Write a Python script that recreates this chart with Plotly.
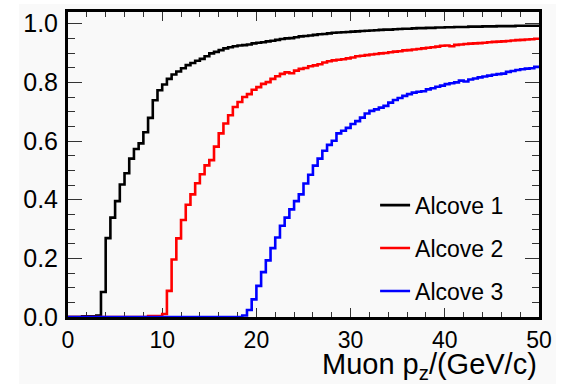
import plotly.graph_objects as go

# bin lower edges (0.5 GeV/c bins from 0 to 50)
bin_width = 0.5
n_bins = 100
bin_edges = [i * bin_width for i in range(n_bins + 1)]

alcove1 = [
    0.000, 0.000, 0.000, 0.002, 0.002, 0.002, 0.005, 0.085, 0.269, 0.339,
    0.395, 0.452, 0.490, 0.540, 0.573, 0.592, 0.630, 0.679, 0.739, 0.773,
    0.793, 0.812, 0.827, 0.837, 0.848, 0.859, 0.866, 0.874, 0.880, 0.889,
    0.899, 0.904, 0.910, 0.916, 0.920, 0.923, 0.926, 0.927, 0.929, 0.933,
    0.935, 0.937, 0.940, 0.942, 0.945, 0.948, 0.950, 0.951, 0.954, 0.957,
    0.958, 0.960, 0.962, 0.964, 0.965, 0.967, 0.969, 0.970, 0.971, 0.972,
    0.973, 0.974, 0.975, 0.976, 0.977, 0.978, 0.979, 0.980, 0.980, 0.981,
    0.982, 0.983, 0.983, 0.984, 0.985, 0.985, 0.986, 0.986, 0.987, 0.987,
    0.988, 0.988, 0.989, 0.989, 0.989, 0.990, 0.990, 0.990, 0.991, 0.991,
    0.991, 0.992, 0.992, 0.992, 0.992, 0.993, 0.993, 0.993, 0.993, 0.993,
]

alcove2 = [
    0.000, 0.000, 0.000, 0.000, 0.000, 0.000, 0.000, 0.000, 0.000, 0.000,
    0.000, 0.000, 0.000, 0.000, 0.000, 0.000, 0.000, 0.003, 0.003, 0.003,
    0.010, 0.089, 0.196, 0.268, 0.331, 0.383, 0.418, 0.456, 0.487, 0.517,
    0.535, 0.581, 0.626, 0.660, 0.688, 0.716, 0.733, 0.750, 0.760, 0.775,
    0.784, 0.795, 0.801, 0.812, 0.821, 0.829, 0.834, 0.831, 0.840, 0.846,
    0.849, 0.855, 0.858, 0.862, 0.868, 0.872, 0.875, 0.877, 0.879, 0.882,
    0.885, 0.889, 0.891, 0.893, 0.895, 0.897, 0.899, 0.900, 0.903, 0.905,
    0.906, 0.909, 0.910, 0.912, 0.914, 0.916, 0.918, 0.920, 0.922, 0.925,
    0.926, 0.923, 0.928, 0.929, 0.931, 0.932, 0.933, 0.934, 0.935, 0.937,
    0.938, 0.939, 0.940, 0.941, 0.943, 0.944, 0.945, 0.946, 0.947, 0.949,
]

alcove3 = [
    0.000, 0.000, 0.000, 0.000, 0.000, 0.000, 0.000, 0.000, 0.000, 0.000,
    0.000, 0.000, 0.000, 0.000, 0.000, 0.000, 0.000, 0.000, 0.000, 0.000,
    0.000, 0.000, 0.000, 0.000, 0.000, 0.000, 0.000, 0.000, 0.000, 0.000,
    0.000, 0.000, 0.000, 0.000, 0.000, 0.000, 0.000, 0.005, 0.024, 0.060,
    0.106, 0.153, 0.193, 0.235, 0.271, 0.311, 0.339, 0.367, 0.395, 0.418,
    0.455, 0.485, 0.516, 0.540, 0.567, 0.587, 0.601, 0.626, 0.635, 0.645,
    0.658, 0.668, 0.680, 0.694, 0.703, 0.708, 0.714, 0.720, 0.731, 0.740,
    0.747, 0.754, 0.760, 0.765, 0.768, 0.770, 0.776, 0.780, 0.785, 0.789,
    0.794, 0.797, 0.800, 0.806, 0.803, 0.810, 0.813, 0.817, 0.820, 0.823,
    0.826, 0.828, 0.830, 0.836, 0.839, 0.842, 0.845, 0.847, 0.848, 0.853,
]

series_names = ["Alcove 1", "Alcove 2", "Alcove 3"]
series_values = [alcove1, alcove2, alcove3]
series_colors = ["#000000", "#ff0000", "#0000ff"]

x_tick_vals = [0, 10, 20, 30, 40, 50]
y_tick_vals = [0.0, 0.2, 0.4, 0.6, 0.8, 1.0]
x_title = "Muon p<sub>z</sub>/(GeV/c)"

FONT = "Liberation Sans, Arial, Helvetica, sans-serif"
BG = "#f9f9f9"

fig = go.Figure()
for i, (name, vals, col) in enumerate(zip(series_names, series_values, series_colors)):
    fig.add_trace(go.Scatter(
        x=bin_edges,
        y=vals + [vals[-1]],
        mode="lines",
        line=dict(shape="hv", color=col, width=2.6),
        name=name,
        legendgroup=name,
        showlegend=True,
    ))

W, H = 566, 384
L, R, T, B = 68, 27, 9, 67
PW, PH = W - L - R, H - T - B

fig.update_layout(
    width=W, height=H,
    margin=dict(l=L, r=R, t=T, b=B, pad=0),
    paper_bgcolor="white",
    plot_bgcolor=BG,
    font=dict(family=FONT, color="black"),
    showlegend=True,
    legend=dict(
        x=0.652, y=0.437, xanchor="left", yanchor="top",
        bgcolor="rgba(0,0,0,0)", borderwidth=0,
        font=dict(size=23, family=FONT, color="black"),
        tracegroupgap=10,
        itemwidth=30,
    ),
    xaxis=dict(
        range=[0, 50], tickvals=x_tick_vals, ticktext=[str(v) for v in x_tick_vals],
        ticks="inside", ticklen=9, tickwidth=1, tickcolor="#333",
        minor=dict(dtick=2, ticks="inside", ticklen=5, tickwidth=1, tickcolor="#333"),
        showline=True, linecolor="black", linewidth=3, mirror="ticks",
        showgrid=False, zeroline=False, layer="below traces",
        tickfont=dict(size=23, family=FONT), ticklabelstandoff=0,
    ),
    yaxis=dict(
        range=[0, 1.04], tickvals=y_tick_vals, tickformat=".1f",
        ticks="inside", ticklen=14, tickwidth=1, tickcolor="#333",
        minor=dict(dtick=0.05, ticks="inside", ticklen=7, tickwidth=1, tickcolor="#333"),
        showline=True, linecolor="black", linewidth=3, mirror="ticks",
        showgrid=False, zeroline=False, layer="below traces",
        tickfont=dict(size=25, family=FONT), ticklabelstandoff=2,
    ),
    shapes=[dict(
        type="rect", xref="paper", yref="paper", layer="below",
        x0=(19 - L) / PW, x1=(556 - L) / PW,
        y0=-(B + 2) / PH, y1=1 + (T - 1) / PH,
        fillcolor=BG, line=dict(width=0),
    )],
    annotations=[dict(
        text=x_title, xref="paper", yref="paper", x=1.0, y=-0.094,
        xanchor="right", yanchor="top", showarrow=False,
        font=dict(size=29, family=FONT, color="black"),
    )],
)

fig.write_html(
    "out.html",
    config={"displayModeBar": False},
    post_script="document.body.style.margin='0';document.body.style.padding='0';",
)
